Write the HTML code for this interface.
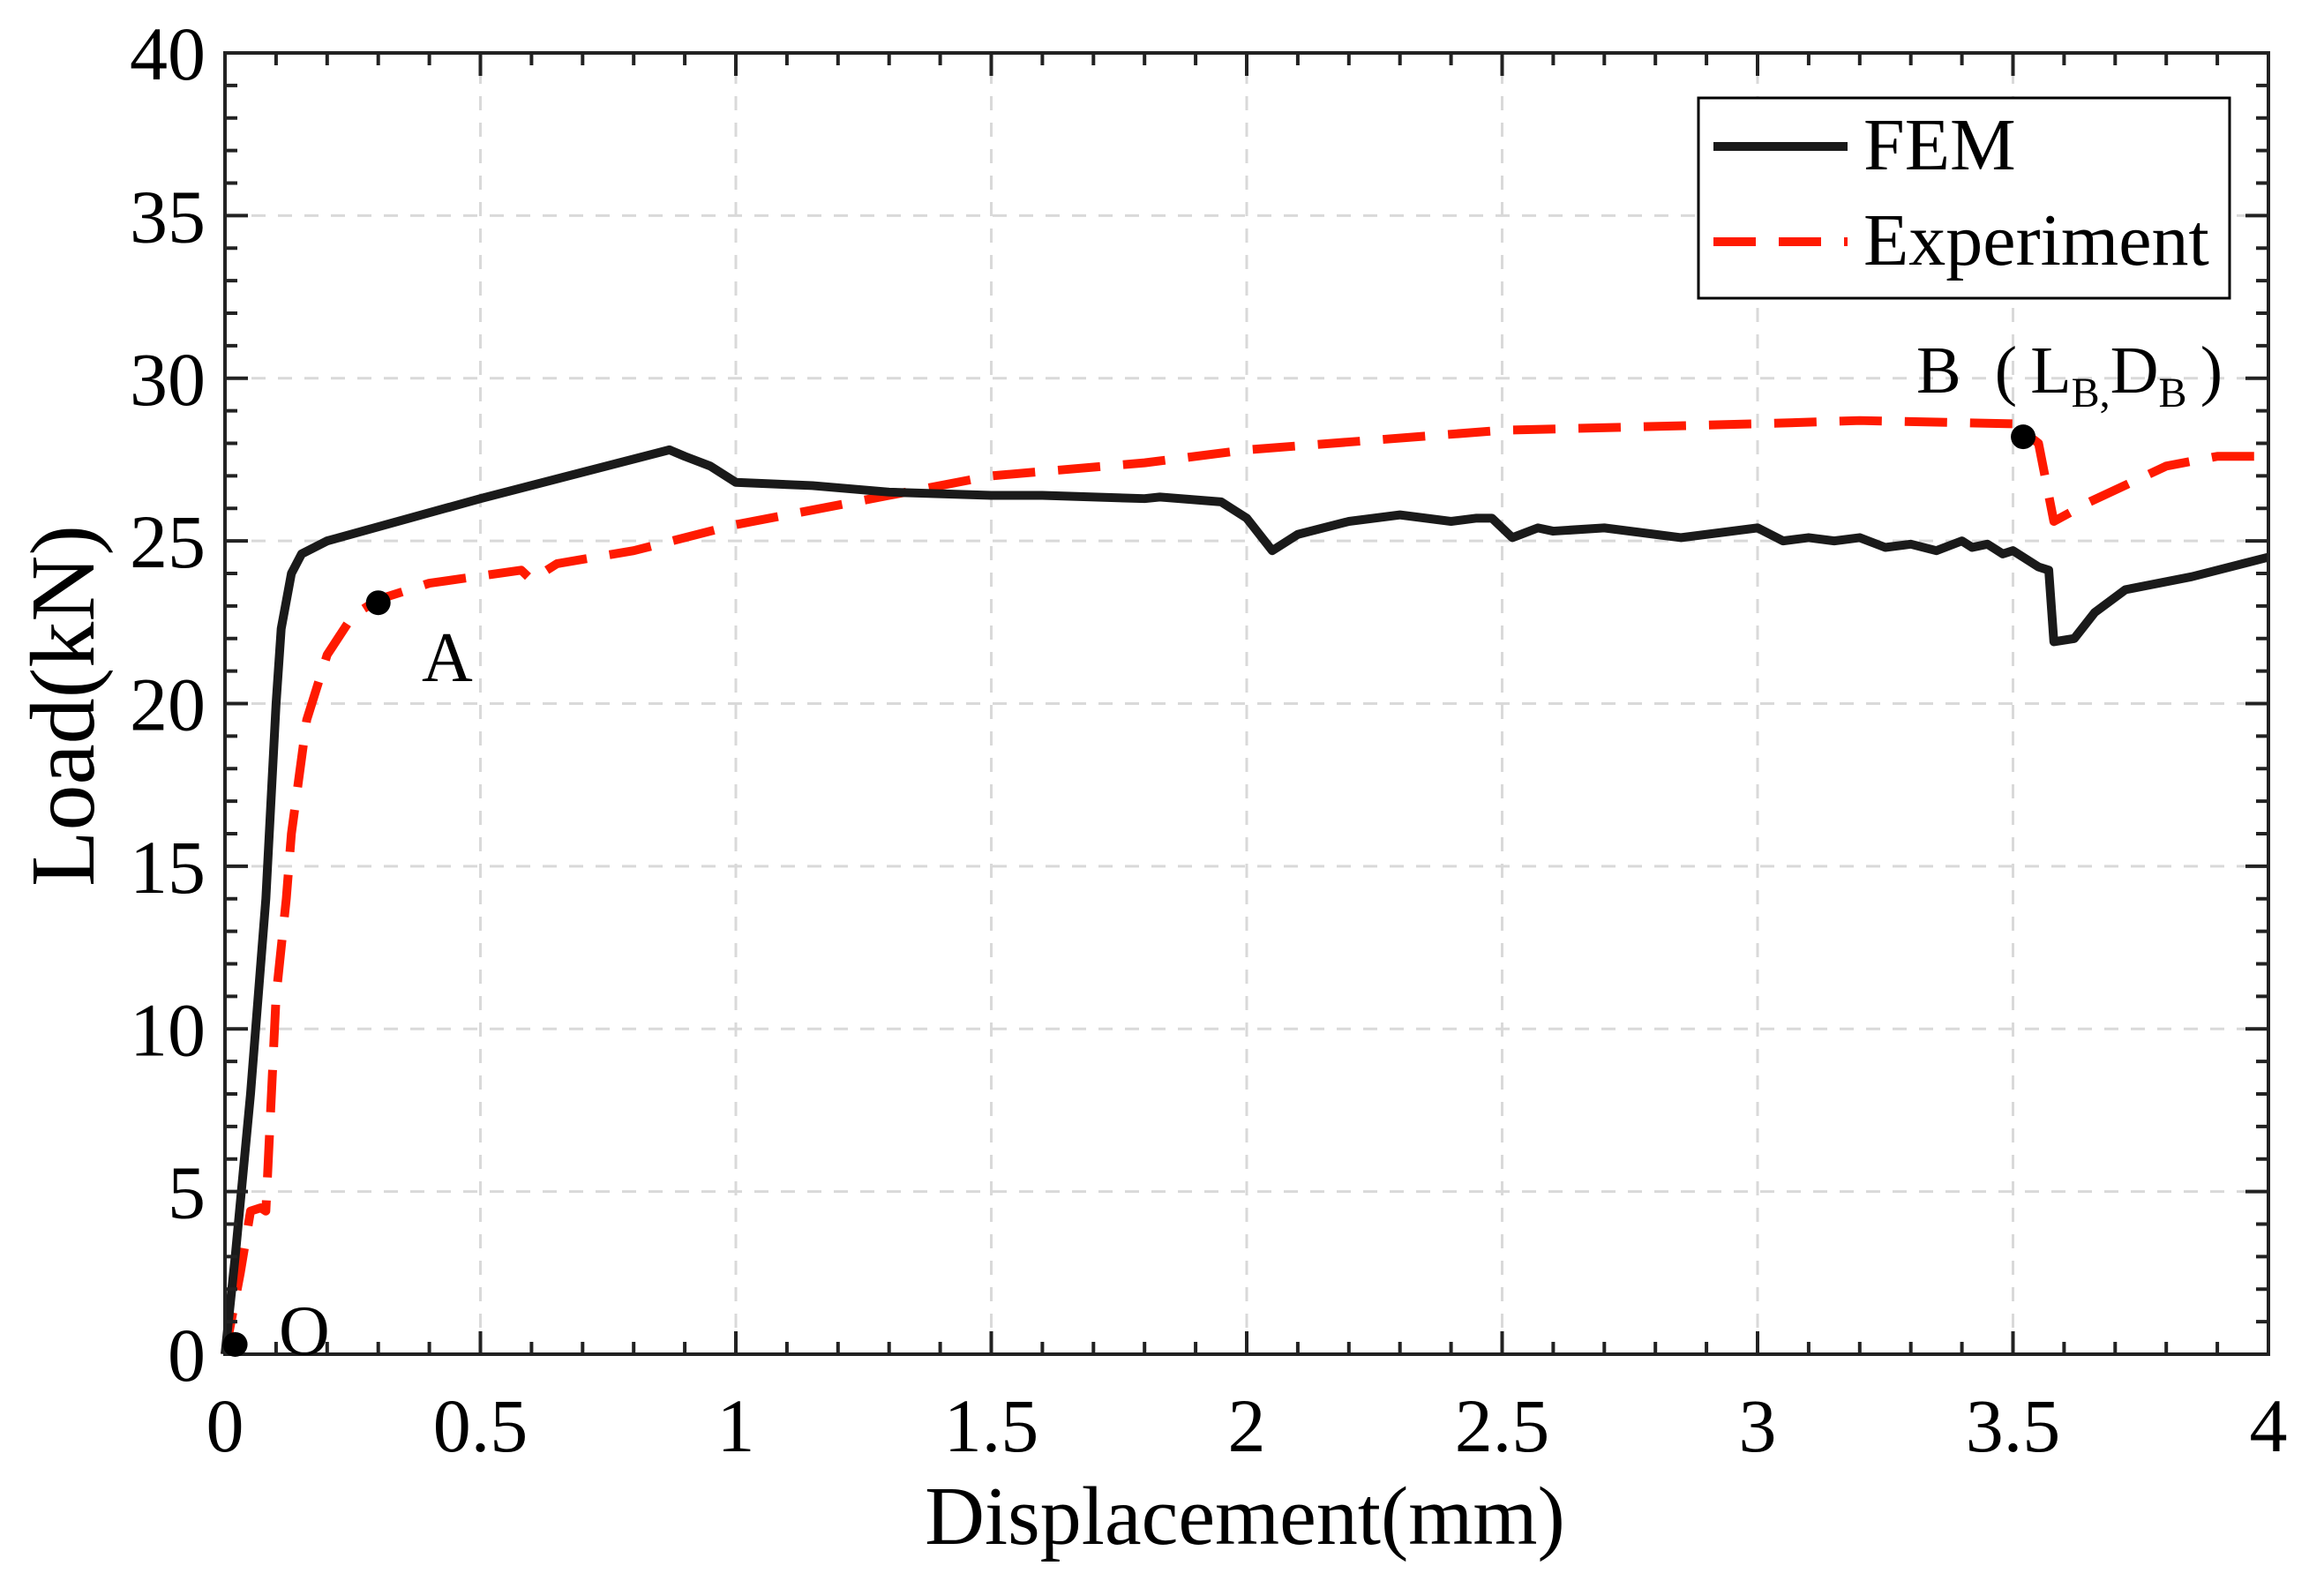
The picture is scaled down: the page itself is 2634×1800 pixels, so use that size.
<!DOCTYPE html>
<html><head><meta charset="utf-8"><style>
html,body{margin:0;padding:0;background:#fff;}
svg{display:block;font-family:"Liberation Serif",serif;}
</style></head><body>
<svg id="chart" width="2634" height="1800" viewBox="0 0 2634 1800" xmlns="http://www.w3.org/2000/svg">
<g id="grid"></g>
<g id="series"></g>
<g id="axes"></g>
<text x="0" y="0" font-size="104" text-anchor="middle" transform="translate(106,800) rotate(-90)">Load(kN)</text>
<text x="1411" y="1750" font-size="94" text-anchor="middle">Displacement(mm)</text>
<g>
<rect x="1925" y="111" width="602" height="227" fill="#fff" stroke="#000" stroke-width="3"/>
<line x1="1942" y1="166" x2="2094" y2="166" stroke="#1a1a1a" stroke-width="10"/>
<text x="2112" y="192" font-size="84">FEM</text>
<line x1="1942" y1="274" x2="2094" y2="274" stroke="#ff1a00" stroke-width="10" stroke-dasharray="48,26"/>
<text x="2112" y="300" font-size="84">Experiment</text>
</g>
<g id="annot"></g>
</svg>
<script>
const xTicks=[0,0.5,1,1.5,2,2.5,3,3.5,4];
const xTickLabels=["0","0.5","1","1.5","2","2.5","3","3.5","4"];
const yTicks=[0,5,10,15,20,25,30,35,40];
const yTickLabels=["0","5","10","15","20","25","30","35","40"];
const femX=[0,0.02,0.05,0.08,0.1,0.11,0.13,0.15,0.2,0.5,0.87,0.9,0.95,1.0,1.15,1.3,1.5,1.6,1.8,1.83,1.95,2.0,2.05,2.1,2.2,2.3,2.4,2.45,2.48,2.52,2.57,2.6,2.7,2.8,2.85,3.0,3.05,3.1,3.15,3.2,3.25,3.3,3.35,3.4,3.42,3.45,3.48,3.5,3.55,3.57,3.58,3.62,3.66,3.72,3.85,4.0];
const femY=[0,3,8,14,20,22.3,24,24.6,25,26.3,27.8,27.6,27.3,26.8,26.7,26.5,26.4,26.4,26.3,26.35,26.2,25.7,24.7,25.2,25.6,25.8,25.6,25.7,25.7,25.1,25.4,25.3,25.4,25.2,25.1,25.4,25.0,25.1,25.0,25.1,24.8,24.9,24.7,25.0,24.8,24.9,24.6,24.7,24.2,24.1,21.9,22.0,22.8,23.5,23.9,24.5];
const expX=[0,0.03,0.05,0.07,0.08,0.1,0.12,0.13,0.16,0.2,0.25,0.3,0.4,0.58,0.6,0.65,0.8,1.0,1.3,1.5,1.8,2.0,2.5,3.0,3.2,3.5,3.55,3.58,3.65,3.8,3.9,4.0];
const expY=[0,2.5,4.4,4.5,4.4,11,14,16,19.5,21.5,22.7,23.2,23.7,24.1,23.8,24.3,24.7,25.5,26.4,27.0,27.4,27.8,28.4,28.6,28.7,28.6,28.0,25.6,26.2,27.3,27.6,27.6];
const pointsX=[0.02,0.3,3.52];
const pointsY=[0.3,23.1,28.2];

const X0=255,X1=2571,Y0=1535,Y1=60;
const sx=v=>X0+(v-0)/4*(X1-X0);
const sy=v=>Y0-(v-0)/40*(Y0-Y1);
const NS="http://www.w3.org/2000/svg";
function mk(tag,attrs,parent){const e=document.createElementNS(NS,tag);for(const k in attrs)e.setAttribute(k,attrs[k]);parent.appendChild(e);return e;}
const grid=document.getElementById('grid'),axes=document.getElementById('axes'),series=document.getElementById('series'),annot=document.getElementById('annot');

xTicks.forEach((t,i)=>{
  if(i>0&&i<xTicks.length-1){const g=mk('line',{x1:sx(t),y1:Y0,x2:sx(t),y2:Y1,stroke:'#d9d9d9','stroke-width':3,'stroke-dasharray':'16,14'},grid);
  
  }
  const l=mk('text',{x:sx(t),y:Y0+110,'font-size':86,'text-anchor':'middle'},axes);l.textContent=xTickLabels[i];
  
  
});
yTicks.forEach((t,i)=>{
  if(i>0&&i<yTicks.length-1){const g=mk('line',{x1:X0,y1:sy(t),x2:X1,y2:sy(t),stroke:'#d9d9d9','stroke-width':3,'stroke-dasharray':'16,14'},grid);
  
  }
  const l=mk('text',{x:X0-22,y:sy(t)+30,'font-size':86,'text-anchor':'end'},axes);l.textContent=yTickLabels[i];
  
  
});
let d='';
for(let k=0;k<=40;k++){const v=k*0.1,x=sx(v),L=(k%5===0)?26:14;d+=`M${x},${Y0}v${-L}M${x},${Y1}v${L}`;}
for(let k=0;k<=40;k++){const y=sy(k),L=(k%5===0)?26:14;d+=`M${X0},${y}h${L}M${X1},${y}h${-L}`;}
const tk=mk('path',{d:d,stroke:'#222','stroke-width':4,fill:'none'},axes);


const fr=mk('rect',{x:X0,y:Y1,width:X1-X0,height:Y0-Y1,fill:'none',stroke:'#222','stroke-width':4},axes);



function pts(xs,ys){return xs.map((x,i)=>sx(x)+','+sy(ys[i])).join(' ');}
const e=mk('polyline',{points:pts(expX,expY),fill:'none',stroke:'#ff1a00','stroke-width':10,'stroke-dasharray':'48,26','stroke-linejoin':'round'},series);


const f=mk('polyline',{points:pts(femX,femY),fill:'none',stroke:'#1a1a1a','stroke-width':10,'stroke-linejoin':'round'},series);


pointsX.forEach((x,i)=>{const c=mk('circle',{cx:sx(x),cy:sy(pointsY[i]),r:14,fill:'#000'},annot);
  
  });
const to=mk('text',{x:316,y:1535,'font-size':80},annot);to.textContent='O';


const ta=mk('text',{x:478,y:772,'font-size':80},annot);ta.textContent='A';


const tb=mk('text',{x:2172,y:445,'font-size':76},annot);


tb.innerHTML='B\u2002(\u2009L<tspan font-size="48" dy="16">B,</tspan><tspan dy="-16">D</tspan><tspan font-size="48" dy="16">B</tspan><tspan dy="-16">\u2009)</tspan>';
</script>
</body></html>
